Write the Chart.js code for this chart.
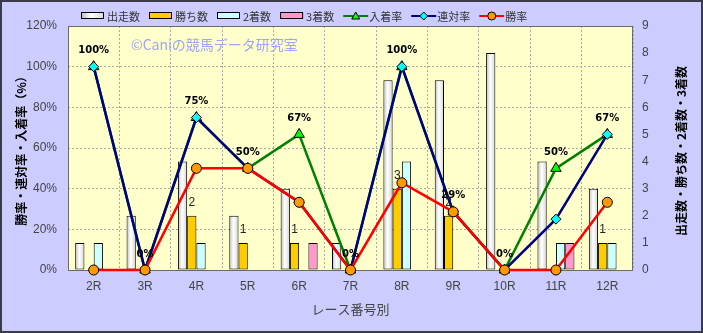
<!DOCTYPE html>
<html>
<head>
<meta charset="utf-8">
<script src="https://cdn.jsdelivr.net/npm/chart.js@4.4.0/dist/chart.umd.min.js"></script>
<style>
html,body{margin:0;padding:0;background:#ccccff;}
canvas{display:block;}
</style>
</head>
<body>
<canvas id="raceChart" width="703" height="333"></canvas>
<script>
// data
const races = ['2R','3R','4R','5R','6R','7R','8R','9R','10R','11R','12R'];
const runs   = [1, 2, 4, 2, 3, 1, 7, 7, 8, 4, 3];
const wins   = [0, 0, 2, 1, 1, 0, 3, 2, 0, 0, 1];
const second = [1, 0, 1, 0, 0, 0, 4, 0, 0, 1, 1];
const third  = [0, 0, 0, 0, 1, 0, 0, 0, 0, 1, 0];
const placeRate  = [100, 0, 75, 50, 66.7, 0, 100, 28.6, 0, 50, 66.7];
const rentaiRate = [100, 0, 75, 50, 33.3, 0, 100, 28.6, 0, 25, 66.7];
const winRate    = [0, 0, 50, 50, 33.3, 0, 42.9, 28.6, 0, 0, 33.3];
const placeLabels = ['100%','0%','75%','50%','67%','0%','100%','29%','0%','50%','67%'];
const leftTicks = [0, 20, 40, 60, 80, 100, 120];

const JP = '"Noto Sans CJK JP", sans-serif';
const NUM = '"Liberation Sans", Arial, sans-serif';

function silverGrad(c, x0, x1) {
    const g = c.createLinearGradient(x0, 0, x1, 0);
    g.addColorStop(0, '#bdbdbd');
    g.addColorStop(0.45, '#ffffff');
    g.addColorStop(1, '#d6d6d6');
    return g;
}

function silver(ctx) {
    const el = ctx.element;
    if (!el || !isFinite(el.x) || !el.width) return '#f2f2f2';
    return silverGrad(ctx.chart.ctx, el.x - el.width / 2, el.x + el.width / 2);
}

//////////////////// backgrounds, frame, watermark
const backPlugin = {
    id: 'back',
    beforeDraw(chart) {
        const c = chart.ctx, a = chart.chartArea;
        c.save();
        c.fillStyle = '#ccccff';
        c.fillRect(0, 0, chart.width, chart.height);
        c.fillStyle = '#ffffcc';
        c.fillRect(a.left, a.top, a.right - a.left, a.bottom - a.top);
        c.restore();
    },
    beforeDatasetsDraw(chart) {
        const c = chart.ctx, a = chart.chartArea;
        c.save();
        c.strokeStyle = '#6a6a6a';
        c.lineWidth = 1;
        c.strokeRect(a.left + 0.5, a.top + 0.5, a.right - a.left - 1, a.bottom - a.top);
        c.font = '14px ' + JP;
        c.fillStyle = '#9ea4f6';
        c.textBaseline = 'middle';
        c.fillText('©Caniの競馬データ研究室', 131, 45);
        c.restore();
    }
};

//////////////////// value labels
const labelPlugin = {
    id: 'vlabels',
    afterDatasetsDraw(chart) {
        const c = chart.ctx;
        c.save();
        c.textAlign = 'center';
        c.textBaseline = 'middle';
        c.fillStyle = '#000';
        c.font = 'bold 10px "DejaVu Sans", sans-serif';
        chart.getDatasetMeta(4).data.forEach((pt, i) => {
            c.fillText(placeLabels[i], pt.x, pt.y - 16);
        });
        c.font = '12px ' + NUM;
        c.fillStyle = '#222';
        chart.getDatasetMeta(1).data.forEach((b, i) => {
            if (wins[i] > 0) c.fillText(String(wins[i]), b.x, b.y - 13);
        });
        c.restore();
    }
};

//////////////////// legend, right title, outer border
const legendItems = [
    {text: '出走数', kind: 'bar', fill: 'silver'},
    {text: '勝ち数', kind: 'bar', fill: '#ffcc00'},
    {text: '2着数', kind: 'bar', fill: '#ccffff'},
    {text: '3着数', kind: 'bar', fill: '#ff99cc'},
    {text: '入着率', kind: 'line', line: '#008000', fill: '#00ff00', mark: 'triangle'},
    {text: '連対率', kind: 'line', line: '#000080', fill: '#00ffff', mark: 'diamond'},
    {text: '勝率', kind: 'line', line: '#ff0000', fill: '#ff9900', mark: 'circle'}
];

const framePlugin = {
    id: 'frame',
    afterDraw(chart) {
        const c = chart.ctx;
        c.save();
        // legend
        let x = 81;
        const y = 16;
        c.font = '11px ' + JP;
        c.textBaseline = 'middle';
        legendItems.forEach(it => {
            if (it.kind === 'bar') {
                c.fillStyle = it.fill === 'silver' ? silverGrad(c, x, x + 23) : it.fill;
                c.fillRect(x, y - 3, 23, 6);
                c.strokeStyle = '#000';
                c.lineWidth = 1;
                c.strokeRect(x + 0.5, y - 3.5, 22, 6);
            } else {
                c.strokeStyle = it.line;
                c.lineWidth = 2;
                c.beginPath();
                c.moveTo(x, y);
                c.lineTo(x + 25, y);
                c.stroke();
                c.fillStyle = it.fill;
                c.strokeStyle = '#000';
                c.lineWidth = 1;
                const mx = x + 12.5;
                c.beginPath();
                if (it.mark === 'triangle') {
                    c.moveTo(mx, y - 4); c.lineTo(mx + 4, y + 3); c.lineTo(mx - 4, y + 3); c.closePath();
                } else if (it.mark === 'diamond') {
                    c.moveTo(mx, y - 4); c.lineTo(mx + 4, y); c.lineTo(mx, y + 4); c.lineTo(mx - 4, y); c.closePath();
                } else {
                    c.arc(mx, y, 4, 0, Math.PI * 2);
                }
                c.fill();
                c.stroke();
            }
            x += 26;
            c.fillStyle = '#333';
            c.fillText(it.text, x, y + 1);
            x += c.measureText(it.text).width + 9;
        });
        // right axis title
        const a = chart.chartArea;
        c.translate(681, (a.top + a.bottom) / 2 + 3);
        c.rotate(-Math.PI / 2);
        c.textAlign = 'center';
        c.fillStyle = '#000';
        c.font = 'bold 12px ' + JP;
        c.fillText('出走数・勝ち数・2着数・3着数', 0, 0);
        c.setTransform(1, 0, 0, 1, 0, 0);
        // outer border
        c.strokeStyle = '#3a3a48';
        c.lineWidth = 2;
        c.strokeRect(1, 1, chart.width - 2, chart.height - 2);
        c.restore();
    }
};

function barSet(label, data, color) {
    return {
        type: 'bar',
        label,
        data,
        yAxisID: 'y1',
        backgroundColor: color,
        borderColor: '#000',
        borderWidth: 1,
        borderSkipped: false,
        categoryPercentage: 0.72,
        barPercentage: 1,
        order: 10
    };
}

function lineSet(label, data, line, fill, style, radius, order) {
    return {
        type: 'line',
        label,
        data,
        yAxisID: 'y',
        borderColor: line,
        borderWidth: 2.5,
        pointStyle: style,
        pointRadius: radius,
        pointBackgroundColor: fill,
        pointBorderColor: '#000',
        pointBorderWidth: 1,
        tension: 0,
        fill: false,
        clip: false,
        order
    };
}

const chart = new Chart(document.getElementById('raceChart').getContext('2d'), {
    data: {
        labels: races,
        datasets: [
            barSet('出走数', runs, silver),
            barSet('勝ち数', wins, '#ffcc00'),
            barSet('2着数', second, '#ccffff'),
            barSet('3着数', third, '#ff99cc'),
            lineSet('入着率', placeRate, '#008000', '#00ff00', 'triangle', 6, 3),
            lineSet('連対率', rentaiRate, '#000080', '#00ffff', 'rectRot', 5, 2),
            lineSet('勝率', winRate, '#ff0000', '#ff9900', 'circle', 5, 1)
        ]
    },
    options: {
        responsive: false,
        animation: false,
        layout: {padding: {top: 26, left: 0, right: 0, bottom: 0}},
        plugins: {
            legend: {display: false},
            tooltip: {enabled: false}
        },
        scales: {
            x: {
                offset: true,
                grid: {offset: true, color: '#a8a8a8', drawTicks: false},
                border: {display: false, dash: [2, 2]},
                ticks: {color: '#444', font: {size: 12, family: NUM}, padding: 9},
                title: {display: true, text: 'レース番号別', color: '#444', font: {size: 13, family: JP}, padding: {top: 6, bottom: 16}},
                afterFit(s) { s.height = 63; }
            },
            y: {
                position: 'left',
                min: 0,
                max: 120,
                afterBuildTicks(s) { s.ticks = leftTicks.map(v => ({value: v})); },
                grid: {color: '#a8a8a8', drawTicks: false},
                border: {display: false, dash: [2, 2]},
                ticks: {color: '#444', font: {size: 12, family: NUM}, padding: 11, callback: v => v + '%'},
                title: {display: true, text: '勝率・連対率・入着率（%）', color: '#000', font: {size: 12, weight: 'bold', family: JP}, padding: {top: 14, bottom: 0}},
                afterFit(s) { s.width = 68; }
            },
            y1: {
                position: 'right',
                min: 0,
                max: 9,
                ticks: {stepSize: 1, color: '#444', font: {size: 12, family: NUM}, padding: 9},
                grid: {drawOnChartArea: false, drawTicks: false},
                border: {display: false},
                afterFit(s) { s.width = 70; }
            }
        }
    },
    plugins: [backPlugin, labelPlugin, framePlugin]
});
// second pass so the silver bars get their gradient from the laid out bar positions
chart.update('none');
</script>
</body>
</html>
